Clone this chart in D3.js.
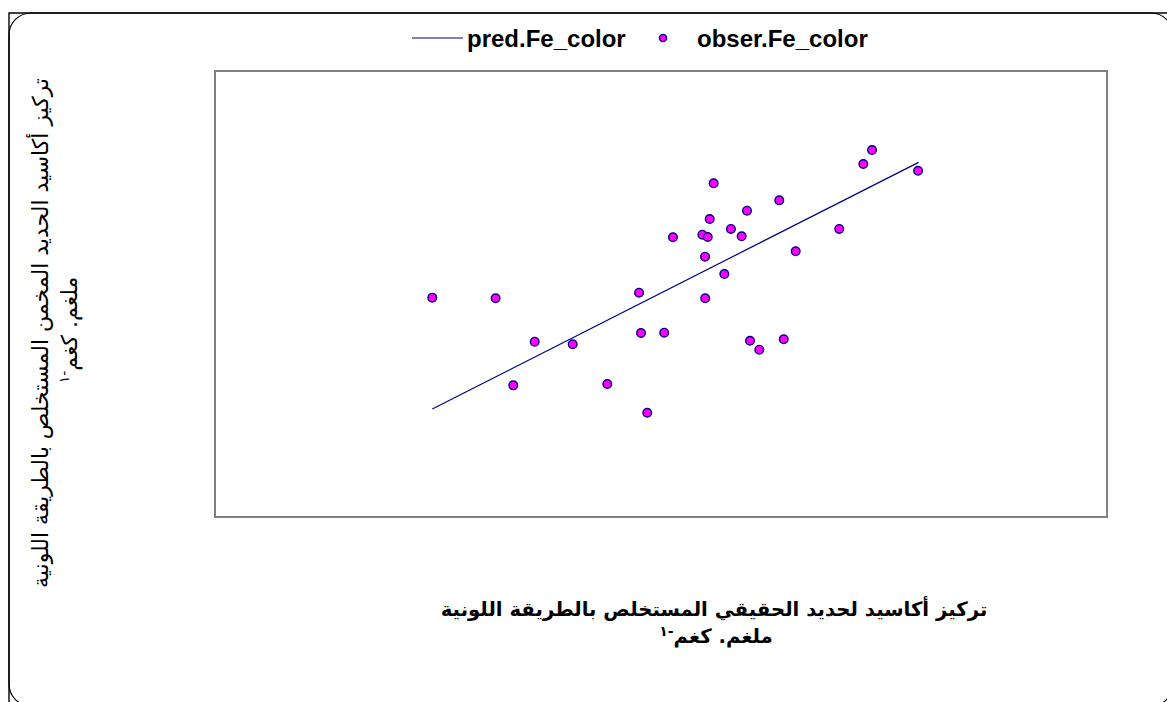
<!DOCTYPE html>
<html>
<head>
<meta charset="utf-8">
<script src="https://cdn.jsdelivr.net/npm/d3@7"></script>
<style>
  body { margin: 0; background: #fff; }
  svg { display: block; }
  text { font-family: "Liberation Sans", Arial, "DejaVu Sans", sans-serif; }
  .ar { font-family: "DejaVu Sans", sans-serif; }
</style>
</head>
<body>
<div id="chart"></div>
<script>
var obsX = [12.18, 15.73, 17.92, 20.05, 16.72, 21.99, 24.23, 23.77, 23.88, 25.18,
            25.67, 27.32, 27.62, 27.47, 27.48, 27.73, 27.95, 28.55, 28.92, 29.52,
            29.82, 29.99, 30.51, 31.63, 31.88, 32.55, 34.99, 36.34, 36.83, 39.41];
var obsY = [24.59, 24.52, 19.65, 19.36, 14.76, 14.91, 11.69, 25.15, 20.63, 20.66,
            31.36, 31.65, 31.39, 29.18, 24.52, 33.41, 37.41, 27.24, 32.29, 31.47,
            34.34, 19.76, 18.76, 35.50, 19.92, 29.79, 32.29, 39.57, 41.14, 38.82];
var predX = [12.18, 39.44];
var predY = [12.11, 39.76];

var legendLabels = ["pred.Fe_color", "obser.Fe_color"];
var xTitle = ["تركيز أكاسيد لحديد الحقيقي المستخلص بالطريقة اللونية", "ملغم. كغم"];
var yTitle = ["تركيز أكاسيد الحديد المخمن المستخلص بالطريقة اللونية", "ملغم. كغم"];
var unitSup = "-١";

var width = 1167, height = 702;
var plot = {left: 215, top: 71, right: 1107, bottom: 517};

var svg = d3.select("#chart").append("svg")
    .attr("width", width)
    .attr("height", height);

// outer frame: square top/left edges plus a rounded border running off the page
svg.append("path")
    .attr("d", "M9,702 L9,13 L1167,13")
    .attr("fill", "none")
    .attr("stroke", "#000")
    .attr("stroke-width", 1.4);
svg.append("rect")
    .attr("x", 9).attr("y", 13)
    .attr("width", 1164).attr("height", 693)
    .attr("rx", 22).attr("ry", 22)
    .attr("fill", "none")
    .attr("stroke", "#000")
    .attr("stroke-width", 1.2);

var x = d3.scaleLinear().domain([0, 50]).range([plot.left, plot.right]);
var y = d3.scaleLinear().domain([0, 50]).range([plot.bottom, plot.top]);

// plot area box
svg.append("rect")
    .attr("x", plot.left).attr("y", plot.top)
    .attr("width", plot.right - plot.left)
    .attr("height", plot.bottom - plot.top)
    .attr("fill", "none")
    .attr("stroke", "#808080")
    .attr("stroke-width", 2);

// predicted line
var line = d3.line()
    .x(function(d, i) { return x(predX[i]); })
    .y(function(d, i) { return y(predY[i]); });

svg.append("path")
    .datum(predX)
    .attr("d", line)
    .attr("fill", "none")
    .attr("stroke", "#000080")
    .attr("stroke-width", 1.2);

// observed points
svg.selectAll(".obs")
    .data(obsX)
  .enter().append("circle")
    .attr("class", "obs")
    .attr("cx", function(d) { return x(d); })
    .attr("cy", function(d, i) { return y(obsY[i]); })
    .attr("r", 4.3)
    .attr("fill", "#ff00ff")
    .attr("stroke", "#000080")
    .attr("stroke-width", 1.4);

// legend
var lg = svg.append("g");
lg.append("line")
    .attr("x1", 412).attr("x2", 463)
    .attr("y1", 38).attr("y2", 38)
    .attr("stroke", "#000080")
    .attr("stroke-width", 1.2);
lg.append("text")
    .attr("x", 467).attr("y", 47)
    .attr("font-size", 24).attr("font-weight", "bold")
    .text(legendLabels[0]);
lg.append("circle")
    .attr("cx", 663).attr("cy", 38).attr("r", 3.6)
    .attr("fill", "#ff00ff")
    .attr("stroke", "#000080")
    .attr("stroke-width", 1.4);
lg.append("text")
    .attr("x", 697).attr("y", 47)
    .attr("font-size", 24).attr("font-weight", "bold")
    .text(legendLabels[1]);

// x axis title
var xt = svg.append("text")
    .attr("class", "ar")
    .attr("text-anchor", "middle")
    .attr("direction", "rtl")
    .attr("font-size", 19.7).attr("font-weight", "bold");
xt.append("tspan").attr("x", 714).attr("y", 616).text(xTitle[0]);
xt.append("tspan").attr("x", 716).attr("y", 643).text(xTitle[1]);
xt.append("tspan").attr("dy", -7).attr("font-size", 14).text(unitSup);

// y axis title
var yt = svg.append("text")
    .attr("class", "ar")
    .attr("transform", "rotate(-90)")
    .attr("text-anchor", "middle")
    .attr("direction", "rtl")
    .attr("font-size", 22);
yt.append("tspan").attr("x", -333).attr("y", 48).text(yTitle[0]);
yt.append("tspan").attr("x", -330).attr("y", 77).text(yTitle[1]);
yt.append("tspan").attr("dy", -8).attr("font-size", 14).text(unitSup);
</script>
</body>
</html>
